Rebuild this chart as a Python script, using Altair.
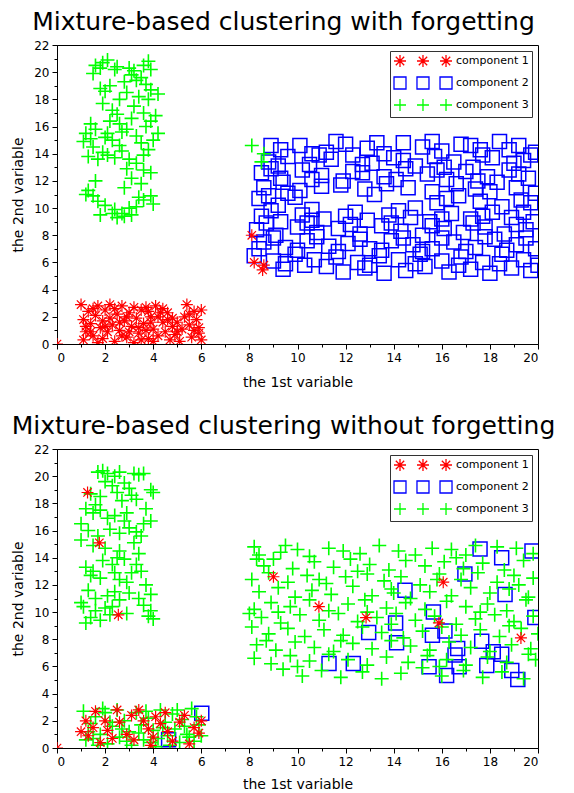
import altair as alt
import pandas as pd

X_TICKS = list(range(0, 21))
Y_TICKS = list(range(0, 23))
COMPONENTS = ["component 1", "component 2", "component 3"]
COLORS = ["#ff0000", "#0000ff", "#00ff00"]
TITLES = ["Mixture-based clustering with forgetting",
          "Mixture-based clustering without forgetting"]

# ---------------- panel 1 (with forgetting) ----------------
P1_C1 = [(1.0,2.9),(1.1,1.8),(1.2,0.9),(1.3,2.4),(1.1,0.3),(1.4,1.5),(1.5,0.6),(1.6,2.1),(1.7,2.8),(1.8,1.2),
         (1.9,0.4),(2.0,2.5),(1.9,1.7),(2.1,0.9),(2.2,2.9),(2.3,1.4),(2.4,0.2),(2.5,2.2),(2.6,1.0),(2.7,2.8),
         (2.8,1.7),(2.9,0.5),(3.0,2.3),(3.1,1.3),(3.2,0.1),(3.3,1.9),(3.4,0.8),(3.5,2.5),(3.6,1.5),(3.7,2.7),
         (3.8,0.4),(3.9,2.0),(4.0,1.1),(4.1,2.8),(4.2,0.6),(4.3,2.3),(4.4,1.6),(4.5,0.9),(4.6,1.8),(4.7,0.3),
         (4.8,1.3),(4.9,0.7),(5.0,1.6),(5.1,0.2),(5.2,1.1),(5.3,2.0),(5.4,2.9),(5.5,1.4),(5.6,0.5),(5.7,2.4),
         (5.8,1.8),(5.9,0.8),(6.0,2.5),(6.0,0.3),(5.9,1.2),(1.2,1.3),(1.5,2.6),(2.0,1.3),(2.2,1.9),(2.4,2.6),
         (2.7,0.6),(3.0,0.9),(3.2,2.7),(3.5,0.3),(3.7,1.0),(3.9,1.6),(4.2,2.0),(4.4,2.6),(4.6,2.3),(5.0,0.9),
         (5.5,2.2),(5.7,1.0),(1.7,0.1),(2.9,2.0),(3.4,1.2),(4.0,0.2),(4.8,1.9),(1.4,0.9),(2.6,1.6),(3.8,2.4),
         (0.0,0.0),(8.1,8.0),(8.6,5.8),(8.55,5.45),(8.2,6.0)]

P1_C2 = [(9.3,14.3),(10.1,14.6),(11.2,14.1),(12.0,14.7),(12.9,14.4),(13.6,14.0),(14.4,14.8),(15.2,14.5),(16.0,14.2),(16.8,14.7),
         (17.6,14.3),(18.4,14.9),(19.2,14.6),(19.9,14.1),
         (8.8,13.4),(9.6,13.8),(10.5,13.2),(11.4,13.6),(12.3,13.9),(13.1,13.3),(14.0,13.7),(14.9,13.1),(15.7,13.8),(16.5,13.4),
         (17.3,13.0),(18.1,13.7),(19.0,13.3),(19.7,13.9),
         (8.5,12.6),(9.3,12.2),(10.2,12.8),(11.0,12.4),(11.9,12.0),(12.7,12.6),(13.6,12.3),(14.5,12.9),(15.4,12.5),(16.2,12.1),
         (17.0,12.7),(17.9,12.3),(18.8,12.8),(19.6,12.2),
         (8.6,11.5),(9.4,11.9),(10.1,11.3),(11.8,11.7),(12.8,11.4),(13.7,11.8),(14.6,11.5),(15.6,11.2),(16.6,11.8),(17.4,11.4),
         (18.3,11.9),(19.1,11.5),(19.9,11.1),
         (8.4,10.7),(9.2,10.2),(9.9,10.8),(15.8,10.4),(16.7,10.9),(17.6,10.5),(18.5,10.1),(19.3,10.6),(10.6,9.9),(14.9,10.0),
         (8.5,9.4),(9.3,9.0),(10.2,9.5),(11.1,9.2),(12.0,9.4),(12.9,9.1),(13.8,9.5),(14.7,9.3),(15.5,9.0),(16.4,9.6),
         (17.2,9.2),(18.1,9.7),(18.9,9.3),(19.8,9.0),
         (8.3,8.4),(9.1,8.0),(10.0,8.6),(10.8,8.2),(11.7,8.5),(12.6,8.1),(13.5,8.7),(14.3,8.3),(15.2,8.0),(16.1,8.5),
         (16.9,8.2),(17.8,8.6),(18.6,8.1),(19.5,8.4),
         (8.6,7.5),(9.5,7.1),(10.4,7.6),(11.3,7.2),(12.1,7.4),(13.0,7.0),(13.9,7.6),(14.8,7.3),(15.6,7.0),(16.5,7.5),
         (17.4,7.1),(18.2,7.7),(19.1,7.3),(19.9,7.0),
         (8.2,6.5),(9.0,6.1),(9.9,6.6),(10.7,6.2),(11.6,6.4),(12.5,6.0),(13.4,6.5),(14.2,6.2),(15.1,6.6),(16.0,6.1),
         (16.8,6.4),(17.7,6.0),(18.5,6.6),(19.4,6.2),
         (9.4,5.5),(10.3,5.8),(11.9,5.3),(12.8,5.6),(13.6,5.2),(14.5,5.4),(15.3,5.7),(16.3,5.3),(17.2,5.5),(18.0,5.2),
         (18.9,5.6),(19.7,5.4),
         (8.9,14.6),(10.6,14.0),(11.6,14.9),(13.3,14.8),(15.6,14.9),(17.2,14.6),(18.8,14.3),
         (9.2,13.1),(10.9,13.9),(12.7,13.2),(14.4,13.5),(16.1,13.0),(17.7,13.9),(19.4,13.5),
         (8.9,12.9),(10.6,12.1),(12.3,12.7),(14.1,12.1),(15.8,12.8),(17.5,12.0),(19.2,12.5),
         (8.8,10.9),(9.6,11.1),(11.0,11.6),(13.2,11.0),(16.2,10.7),(18.0,11.2),(19.7,10.4),
         (8.9,9.8),(10.6,9.1),(12.4,9.7),(14.2,9.8),(16.0,9.2),(17.7,9.4),(19.4,9.7),
         (8.7,8.9),(10.4,8.9),(12.2,8.8),(13.9,8.9),(15.6,8.7),(17.3,8.9),(19.1,8.8),
         (9.0,7.8),(10.8,7.9),(12.6,7.7),(14.4,7.8),(16.0,7.8),(17.8,7.9),(19.5,7.8),
         (8.4,7.0),(10.0,6.9),(11.7,6.8),(13.5,6.9),(15.2,6.8),(17.0,6.8),(18.7,6.9),
         (9.5,5.9),(11.2,5.7),(13.0,5.8),(14.9,5.9),(16.7,5.8),(18.4,5.9),(20.0,5.8)]

P1_C3 = [(1.6,20.5),(1.9,20.7),(2.1,20.9),(1.8,20.3),(2.4,20.2),(3.2,20.1),(3.5,19.6),(3.8,20.8),(3.9,20.2),(3.6,20.5),
         (3.1,19.8),(2.8,19.3),(3.3,19.4),(3.7,19.1),(3.9,18.7),(2.9,18.5),(3.4,18.2),(3.8,18.0),(1.8,18.8),(2.0,18.6),
         (1.9,17.7),(2.3,17.2),(3.2,17.5),(3.6,17.0),(4.1,16.8),(3.9,16.4),(4.2,15.5),(2.5,16.9),(2.2,16.4),(2.6,16.2),
         (2.9,15.8),(3.1,16.6),(2.7,15.6),(3.3,15.3),(3.5,14.8),(3.8,14.3),(4.0,15.0),(1.2,15.5),(1.4,15.1),(1.6,15.8),
         (1.1,14.9),(1.5,14.5),(2.0,15.2),(2.3,15.0),(1.3,13.8),(1.7,13.6),(2.1,13.9),(2.4,13.7),(2.7,14.2),(3.0,13.6),
         (3.3,13.3),(3.6,12.8),(3.9,12.6),(2.9,12.9),(3.1,12.2),(3.5,11.8),(2.6,14.6),(1.9,14.1),(1.3,11.3),(1.5,10.9),
         (1.7,10.5),(1.2,11.0),(2.0,10.2),(2.3,9.6),(2.5,9.3),(2.8,9.4),(3.1,9.5),(3.3,10.1),(3.6,10.6),(3.9,10.9),
         (4.0,10.3),(2.7,9.6),(2.4,9.9),(1.8,9.5),(3.4,10.8),(3.0,10.0),(2.5,20.4),(1.5,19.9),(2.2,19.0),(3.0,20.3),
         (2.6,18.0),(3.7,16.0),(2.1,15.5),(1.4,16.2),(4.2,18.4),(3.6,13.9),(2.8,11.5),(1.6,12.0),
         (8.1,14.6),(8.6,14.0),(8.5,13.4)]

# ---------------- panel 2 (without forgetting) ----------------
P2_C1 = [(1.27,18.8),(1.76,15.1),(2.55,9.8),
         (1.0,1.2),(1.2,2.0),(1.3,0.9),(1.5,1.5),(1.6,2.7),(1.8,0.4),(2.1,1.3),(2.3,0.7),(2.5,2.8),(2.6,1.9),
         (2.9,1.0),(3.1,2.4),(3.2,0.6),(3.4,2.8),(3.6,2.0),(3.8,1.4),(3.9,0.2),(4.1,2.3),(4.3,1.8),(4.5,2.6),
         (4.6,1.2),(4.8,0.5),(5.1,1.9),(5.3,2.4),(5.5,0.3),(5.7,1.5),(5.9,1.1),(6.0,2.0),(2.0,2.0),(4.0,0.8),
         (0.0,0.0),
         (9.0,12.6),(10.89,10.4),(12.85,9.6),(16.06,12.2),(15.88,9.2),(19.29,8.1)]

P2_C2 = [(4.64,0.6),(6.02,2.55),
         (17.59,14.65),(18.49,14.0),(19.75,14.5),(16.96,12.8),(14.47,11.6),(18.63,11.3),(15.65,10.0),(14.08,9.2),
         (19.87,9.6),(16.13,8.6),(12.96,8.5),(15.61,8.3),(14.12,7.75),(17.66,7.85),(16.66,7.33),(16.55,6.84),
         (18.14,7.08),(18.49,6.89),(11.31,6.22),(12.32,6.22),(15.47,5.98),(16.72,5.98),(17.87,6.07),(18.91,5.71),
         (16.2,5.34),(19.16,5.04)]

P2_C3 = [(1.7,20.3),(1.9,20.4),(2.1,20.2),(2.4,20.0),(2.6,20.3),(3.2,20.2),(3.4,20.1),(3.6,20.2),(2.0,19.6),(2.3,19.3),
         (2.8,19.5),(3.0,19.1),(3.9,19.0),(4.0,18.8),(1.4,18.7),(1.8,18.5),(2.5,18.8),(2.7,18.2),(3.1,18.6),(3.3,18.3),
         (1.2,17.6),(1.5,17.3),(1.8,17.5),(2.1,16.9),(2.4,17.1),(2.9,17.3),(3.6,16.5),(3.9,16.7),(1.0,16.5),(1.3,16.0),
         (1.7,15.6),(2.2,16.1),(2.6,15.8),(3.0,16.2),(3.3,15.9),(3.5,15.6),(3.2,15.1),(1.0,15.3),(1.5,14.9),(2.0,14.7),
         (2.6,14.5),(1.9,13.8),(2.3,13.5),(2.8,13.9),(3.4,14.3),(1.2,13.3),(1.4,12.7),(1.8,12.5),(2.4,12.9),(2.6,12.4),
         (3.1,12.9),(3.5,13.0),(2.9,12.2),(3.7,12.0),(3.9,11.3),(1.3,11.6),(1.6,11.0),(2.1,11.2),(2.4,11.5),(2.6,10.9),
         (3.0,11.4),(3.4,11.0),(3.6,10.5),(1.0,10.7),(1.1,10.4),(1.6,10.1),(2.0,10.3),(2.3,10.4),(2.2,9.8),(1.4,9.6),
         (1.2,9.2),(1.8,9.4),(2.9,9.9),(3.8,9.7),(3.9,10.1),(4.0,9.5),(1.6,17.9),(2.8,16.7),(3.7,17.6),(2.5,14.0),
         (3.3,13.5),(1.5,13.0),
         (1.1,2.7),(1.4,1.8),(1.2,0.6),(1.6,2.3),(1.8,1.0),(2.0,2.6),(2.1,0.3),(2.3,1.6),(2.5,2.8),(2.6,0.8),
         (2.8,2.0),(3.0,1.2),(3.1,0.2),(3.3,2.6),(3.5,1.7),(3.6,0.6),(3.8,2.2),(4.0,1.3),(4.1,0.1),(4.3,2.8),
         (4.5,1.9),(4.6,0.9),(4.8,2.5),(4.9,1.4),(5.1,0.4),(5.2,2.1),(5.4,1.0),(5.6,2.9),(5.7,0.5),(5.9,1.7),
         (6.0,0.9),(1.3,1.2),(1.7,0.2),(2.2,1.9),(2.9,0.5),(3.4,1.1),(3.7,2.7),(4.2,0.7),(4.4,1.5),(5.0,2.8),
         (5.3,1.6),(5.8,2.3),(1.9,2.9),(2.7,1.4),(3.9,0.4),(4.7,0.2),(5.5,0.8),(1.5,0.7),
         (8.2,14.8),(8.4,14.2),(9.3,14.4),(10.0,14.6),(10.5,14.1),(11.3,14.7),(11.9,14.5),(12.6,14.3),(13.4,14.9),(14.2,14.5),
         (14.9,14.2),(15.6,14.7),(16.4,14.6),(17.0,14.2),(18.3,14.8),(19.1,14.7),(19.8,14.3),
         (8.6,13.4),(9.0,13.9),(9.8,13.2),(10.7,13.7),(11.5,13.3),(12.2,13.9),(13.0,13.5),(13.8,13.1),(14.5,13.8),(15.3,13.4),
         (16.1,13.7),(16.9,13.2),(17.7,13.6),(18.6,13.1),(19.4,13.8),
         (8.1,12.4),(8.8,12.9),(9.6,12.2),(10.4,12.7),(11.2,12.1),(12.0,12.6),(12.9,12.8),(13.6,12.3),(14.3,12.6),(15.1,12.0),
         (15.9,12.8),(16.8,12.4),(17.5,12.9),(18.3,12.2),(19.0,12.7),(19.8,12.5),
         (8.4,11.5),(9.2,11.8),(9.9,11.1),(10.6,11.6),(11.4,11.3),(12.3,11.9),(13.1,11.2),(13.9,11.7),(14.7,11.0),(15.5,11.5),
         (16.4,11.2),(17.2,11.8),(18.0,11.4),(18.8,11.7),(19.6,11.1),
         (8.2,10.2),(8.9,10.7),(9.7,10.4),(10.5,10.9),(11.3,10.1),(12.1,10.6),(12.8,10.9),(13.7,10.3),(14.5,10.7),(15.3,10.2),
         (16.2,10.8),(17.0,10.4),(17.9,10.6),(18.7,10.1),(19.5,10.9),
         (8.5,9.6),(9.3,9.2),(10.1,9.8),(10.9,9.4),(11.7,9.9),(12.5,9.3),(13.3,9.6),(14.1,9.9),(14.9,9.4),(15.7,9.7),
         (16.6,9.1),(17.4,9.5),(18.2,9.8),(19.0,9.3),(19.8,9.7),
         (8.1,8.9),(8.8,8.4),(9.6,8.8),(10.3,8.2),(11.1,8.7),(11.9,8.3),(12.7,8.9),(13.5,8.5),(14.4,8.1),(15.2,8.6),
         (16.0,8.9),(16.8,8.3),(17.6,8.7),(18.4,8.2),(19.3,8.8),(20.0,8.4),
         (8.3,7.6),(9.1,7.2),(9.9,7.8),(10.7,7.4),(11.5,7.1),(12.3,7.7),(13.1,7.3),(13.9,7.9),(14.7,7.5),(15.5,7.2),
         (16.3,7.8),(17.2,7.4),(18.0,7.1),(18.9,7.6),(19.7,7.3),
         (8.2,6.6),(8.9,6.2),(9.7,6.8),(10.5,6.4),(11.3,6.9),(12.1,6.5),(12.9,6.1),(13.7,6.7),(14.6,6.3),(15.4,6.8),
         (16.2,6.5),(17.0,6.1),(17.9,6.7),(18.7,6.3),(19.6,6.9),
         (9.4,5.8),(10.2,5.3),(11.0,5.7),(11.8,5.2),(12.7,5.6),(13.5,5.1),(14.3,5.5),(15.2,5.9),(16.0,5.3),(16.9,5.7),
         (17.7,5.2),(18.5,5.6),(19.4,5.1),
         (8.0,9.9),(8.3,13.9),(9.5,14.9),(10.9,12.4),(12.5,13.0),(14.0,11.4),(15.8,12.4),(17.4,14.9),(19.2,12.0),(8.7,7.9),
         (10.0,6.0),(11.8,7.9),(13.9,9.1),(15.9,6.0),(17.6,10.0),(19.9,6.5),(9.2,10.0),(12.9,10.0),(16.6,14.0),(18.8,9.0)]


# ---------------- marker shapes (unit box -1..1) ----------------
def star_path(cx):
    d = 0.7
    return (f"M{cx-1},0H{cx+1}M{cx},-1V1"
            f"M{cx-d},{-d}L{cx+d},{d}M{cx-d},{d}L{cx+d},{-d}")

def square_path(cx):
    return f"M{cx-1},-1H{cx+1}V1H{cx-1}Z"

def cross_path(cx):
    return f"M{cx-1},0H{cx+1}M{cx},-1V1"

LEG_OFFS = [0, 3.83, 7.67]
LEGEND_SHAPES = ["".join(f(o) for o in LEG_OFFS) for f in (star_path, square_path, cross_path)]

FONT = "DejaVu Sans"
MINOR_TICK = {"condition": {"test": "datum.value % 2 !== 0", "value": 3}, "value": 5}
EVEN_LABELS = "datum.value % 2 === 0 ? datum.label : ''"


def encodings(x_title_pad):
    x_enc = alt.X("x:Q", scale=alt.Scale(domain=[0, 20], nice=False, zero=False),
                  axis=alt.Axis(values=X_TICKS, title="the 1st variable", grid=False,
                                labelExpr=EVEN_LABELS, tickSize=MINOR_TICK,
                                labelPadding=3, titlePadding=x_title_pad))
    y_enc = alt.Y("y:Q", scale=alt.Scale(domain=[0, 22], nice=False, zero=False),
                  axis=alt.Axis(values=Y_TICKS, title="the 2nd variable", grid=False,
                                labelExpr=EVEN_LABELS, tickSize=MINOR_TICK,
                                labelPadding=3, titlePadding=8))
    return x_enc, y_enc


def layer_pts(data, shape, color, size, sw, enc):
    df = pd.DataFrame(data, columns=["x", "y"])
    return alt.Chart(df).mark_point(shape=shape, filled=False, color=color, size=size,
                                    strokeWidth=sw, opacity=1, clip=True).encode(x=enc[0], y=enc[1])


def panel(title, c1, c2, c3, x_title_pad):
    enc = encodings(x_title_pad)
    leg_df = pd.DataFrame({"component": COMPONENTS})
    leg = alt.Legend(title=None, orient="top-right", offset=6, symbolSize=144,
                     symbolStrokeWidth=1.3, symbolOpacity=1, labelOffset=49,
                     labelFont=FONT, labelFontSize=11, labelColor="#000",
                     padding=3, rowPadding=4, strokeColor="#333", fillColor="white")
    legend_layer = alt.Chart(leg_df).mark_point(filled=False, opacity=0, size=144).encode(
        color=alt.Color("component:N", scale=alt.Scale(domain=COMPONENTS, range=COLORS), legend=leg),
        shape=alt.Shape("component:N", scale=alt.Scale(domain=COMPONENTS, range=LEGEND_SHAPES), legend=leg),
    )
    layers = alt.layer(
        layer_pts(c2, square_path(0), COLORS[1], 196, 1.5, enc),
        layer_pts(c3, cross_path(0), COLORS[2], 196, 1.6, enc),
        layer_pts(c1, star_path(0), COLORS[0], 144, 1.2, enc),
        legend_layer,
    ).properties(
        width=481, height=299,
        title=alt.TitleParams(title, fontSize=25, font=FONT, fontWeight="normal",
                              anchor="middle", dx=-14, offset=4, color="#000"),
    )
    return layers


chart = alt.vconcat(
    panel(TITLES[0], P1_C1, P1_C2, P1_C3, 12),
    panel(TITLES[1], P2_C1, P2_C2, P2_C3, 10),
    spacing=23,
).resolve_scale(color="independent", shape="independent").configure_view(
    stroke="#000", strokeWidth=1
).configure_axis(
    labelFont=FONT, labelFontSize=12, labelColor="#000",
    titleFont=FONT, titleFontSize=14, titleFontWeight="normal", titleColor="#000",
    domainColor="#000", tickColor="#000", domainWidth=1
).properties(padding={"left": 3, "top": 1, "right": 0, "bottom": 0})

chart.save("out.html", embed_options={"renderer": "svg", "actions": False})
